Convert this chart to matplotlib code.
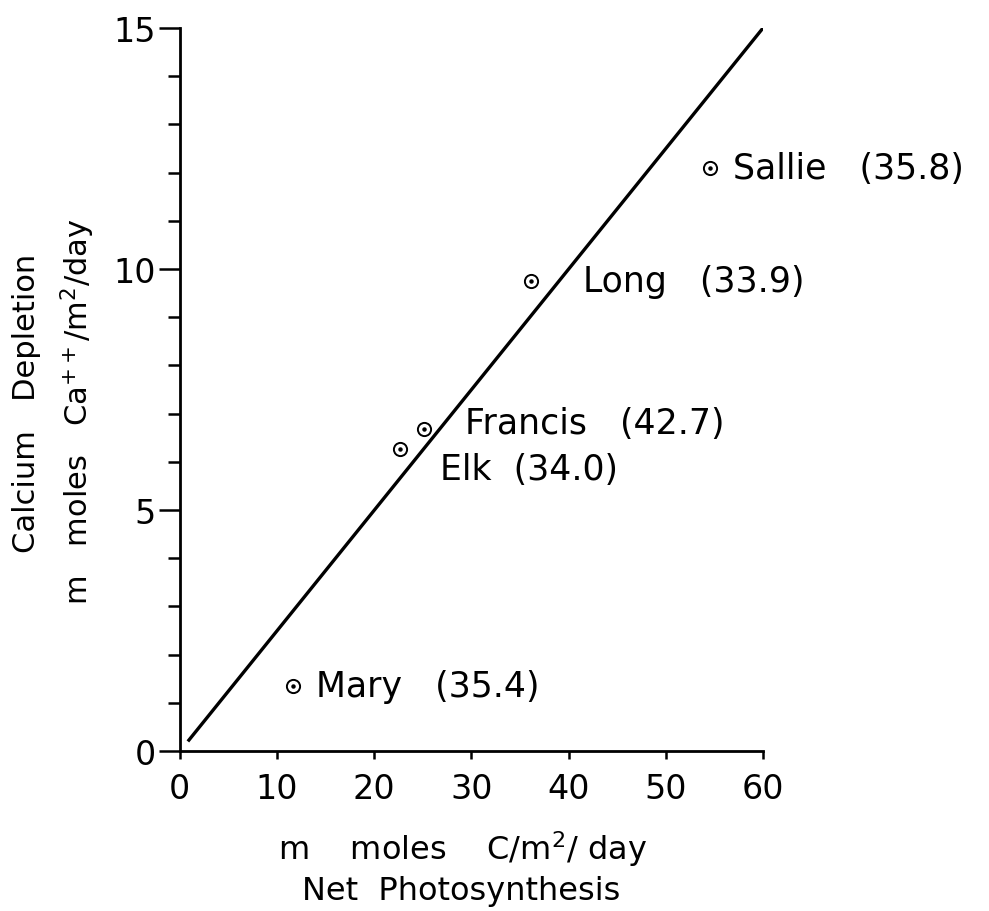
import numpy as np
import matplotlib
matplotlib.use('Agg')
import matplotlib.pyplot as plt

# lakes: net photosynthesis (m moles C/m2/day) vs calcium depletion (m moles Ca++/m2/day)
lakes = ['Sallie', 'Long', 'Francis', 'Elk', 'Mary']
photo = [54.6, 36.1, 25.1, 22.7, 11.7]
calcium = [12.1, 9.75, 6.69, 6.27, 1.35]
ratio_labels = ['(35.8)', '(33.9)', '(42.7)', '(34.0)', '(35.4)']
gaps = ['   ', '   ', '   ', '  ', '   ']

# where each label starts (data coords)
label_x = [56.9, 41.5, 29.4, 26.8, 14.0]
label_y = [12.1, 9.75, 6.80, 5.85, 1.35]

# fitted line
line_x = [0.86, 60]
line_y = [0.2, 15]

x_ticks = [0, 10, 20, 30, 40, 50, 60]
y_ticks = [0, 5, 10, 15]

plt.rcParams['font.family'] = 'DejaVu Sans'

fig = plt.figure(figsize=(9.89, 9.12), dpi=100)
ax = fig.add_axes([0.1815, 0.1754, 0.590, 0.7928])

ax.plot(line_x, line_y, color='black', linewidth=2.4, solid_capstyle='butt')

ax.plot(photo, calcium, linestyle='none', marker='o', markersize=9.5,
        markerfacecolor='none', markeredgecolor='black', markeredgewidth=1.4)
ax.plot(photo, calcium, linestyle='none', marker='o', markersize=2.2,
        color='black')

for name, g, r, lx, ly in zip(lakes, gaps, ratio_labels, label_x, label_y):
    ax.text(lx, ly, name + g + r, fontsize=25, ha='left', va='center')

ax.set_xlim(0, 60)
ax.set_ylim(0, 15)
ax.set_xticks(x_ticks)
ax.set_yticks(y_ticks)
ax.set_yticks(np.arange(0, 16, 1), minor=True)

for s in ['top', 'right']:
    ax.spines[s].set_visible(False)
for s in ['left', 'bottom']:
    ax.spines[s].set_linewidth(2.0)

ax.tick_params(axis='x', direction='out', length=6, width=1.8, labelsize=24, pad=9)
ax.tick_params(axis='y', which='major', direction='out', length=15, width=1.8,
               labelsize=24, pad=2)
ax.tick_params(axis='y', which='minor', direction='out', length=8.5, width=1.8)

# axis titles
fig.text(0.468, 0.057, 'm    moles    C/m$^2$/ day', fontsize=23, ha='center',
         va='baseline')
fig.text(0.466, 0.013, 'Net  Photosynthesis', fontsize=23, ha='center',
         va='baseline')
fig.text(0.0354, 0.394, 'Calcium   Depletion', fontsize=22, rotation=90,
         rotation_mode='anchor', ha='left', va='baseline')
fig.text(0.089, 0.337, 'm   moles   Ca$^{++}$/m$^2$/day', fontsize=22, rotation=90,
         rotation_mode='anchor', ha='left', va='baseline')

fig.savefig('out.png', dpi=100)
